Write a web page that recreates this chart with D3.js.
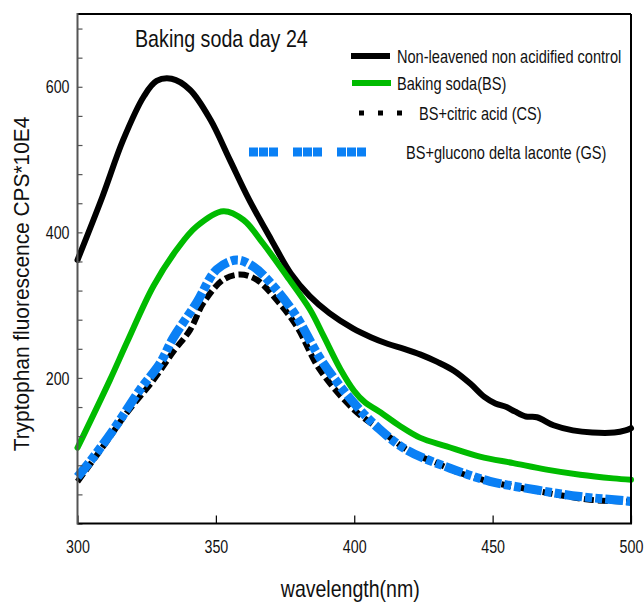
<!DOCTYPE html>
<html>
<head>
<meta charset="utf-8">
<script src="https://cdn.jsdelivr.net/npm/d3@7/dist/d3.min.js"></script>
<style>
  html, body { margin: 0; padding: 0; background: #fff; }
  svg { display: block; }
  text { font-family: "Liberation Sans", Arial, sans-serif; fill: #111; }
</style>
</head>
<body>
<svg id="chart" width="644" height="602"></svg>
<script>
// ---------------- data ----------------
const chartTitle = "Baking soda day 24";
const xAxisTitle = "wavelength(nm)";
const yAxisTitle = "Tryptophan fluorescence CPS*10E4";
const xTicks = [300, 350, 400, 450, 500];
const yTickLabels = [200, 400, 600];
const yMinorTicks = d3.range(0, 700, 40);

const seriesNames = [
  "Non-leavened non acidified control",
  "Baking soda(BS)",
  "BS+citric acid (CS)",
  "BS+glucono delta laconte (GS)"
];

const controlWl = [300, 309, 316.5, 324, 328.6, 334, 340.6, 348, 355, 362, 370, 377, 384, 391, 399.5, 406, 412, 418, 424, 430, 436, 442, 447, 451, 455, 458, 462, 466, 472, 479, 486, 494, 498, 500];
const controlVal = [362, 449, 527, 587, 608, 611, 596, 555, 500, 445, 390, 344, 312, 289, 268, 256, 247, 240, 232, 222, 210, 192, 174, 165, 160, 154, 147, 146, 135, 128, 125, 125, 128, 131];

const bsWl = [300, 311.7, 318, 327.4, 335.8, 343, 352.7, 360, 367, 375.6, 384, 389, 395, 400, 404, 409, 416.5, 423.7, 433.4, 445.4, 457.5, 469.5, 481.6, 493.6, 500];
const bsVal = [104, 197, 250, 326, 376, 408, 429, 417, 385, 340, 294, 257, 212, 182, 166, 154, 134, 118, 106, 92, 83, 74, 67, 62, 60];

const csWl = [300, 309.3, 317.8, 327.4, 334.6, 340.7, 345.5, 352.7, 358.7, 364.7, 372, 379.2, 387.6, 400, 409.3, 414, 421, 428.6, 437, 449, 461, 474, 486, 500];
const csVal = [57.5, 106, 152, 197, 236, 266, 303, 335, 342, 335, 307, 271, 211, 156, 129, 115, 96.5, 85, 71, 57.5, 48.4, 39.2, 32.3, 30];

const gsWl = [300, 304.5, 313, 322.6, 329.8, 334.6, 343, 350.3, 357.5, 363.5, 370.8, 379.2, 388, 400, 409, 419, 434.6, 449, 466, 481.6, 498.4, 500];
const gsVal = [64, 85, 129, 184, 220, 255, 303, 349, 362, 353, 326, 284, 225, 165, 130, 101, 76, 58, 46, 37, 31, 30];

// ---------------- drawing ----------------
const svg = d3.select("#chart");
const x = d3.scaleLinear().domain([300, 500]).range([77.5, 631]);
const y = d3.scaleLinear().domain([0, 700]).range([523.5, 14]);

// condense a text horizontally around its own anchor point (reference uses a narrow face)
function narrow(sel, factor) {
  sel.each(function () {
    const t = d3.select(this);
    const tx = +t.attr("x") || 0, ty = +t.attr("y") || 0;
    const prev = t.attr("transform") || "";
    t.attr("x", 0).attr("y", 0)
     .attr("transform", `${prev} translate(${tx},${ty}) scale(${factor},1)`);
  });
}

const line = d3.line()
  .x(d => x(d[0]))
  .y(d => y(d[1]))
  .curve(d3.curveCatmullRom.alpha(0.5));

const zip = (a, b) => a.map((v, i) => [v, b[i]]);

const styles = [
  { color: "#000000", width: 6, dash: null },
  { color: "#00bb00", width: 6, dash: null },
  { color: "#000000", width: 6, dash: "10,4" },
  { color: "#0a80f5", width: 9, dash: "18,3,7,3,7,3" }
];
const data = [zip(controlWl, controlVal), zip(bsWl, bsVal), zip(csWl, csVal), zip(gsWl, gsVal)];

const plot = svg.append("g");
data.forEach((d, i) => {
  plot.append("path")
    .datum(d)
    .attr("d", line)
    .attr("fill", "none")
    .attr("stroke", styles[i].color)
    .attr("stroke-width", styles[i].width)
    .attr("stroke-linejoin", "round")
    .attr("stroke-linecap", i >= 2 ? "butt" : "round")
    .attr("stroke-dasharray", styles[i].dash);
});

// axes
const xAxis = d3.axisBottom(x).tickValues(xTicks).tickSizeInner(-8).tickSizeOuter(0).tickPadding(16).tickFormat(d3.format("d"));
const gx = svg.append("g").attr("transform", `translate(0,${y(0)})`).call(xAxis);
gx.select(".domain").remove();
gx.selectAll(".tick line").attr("stroke", "#000").attr("stroke-width", 1.2);
gx.selectAll("text").attr("font-size", 19).attr("fill", "#111").call(narrow, 0.75);

const yAxis = d3.axisLeft(y).tickValues(yMinorTicks).tickSizeInner(-5).tickSizeOuter(0).tickPadding(8)
  .tickFormat(d => yTickLabels.includes(d) ? d : "");
const gy = svg.append("g").attr("transform", `translate(${x(300)},0)`).call(yAxis);
gy.select(".domain").remove();
gy.selectAll(".tick line").attr("stroke", "#555").attr("stroke-width", 1.2);
gy.selectAll("text").attr("font-size", 19).attr("fill", "#111").call(narrow, 0.75);

// frame
const x0 = x(300), x1 = x(500), y0 = y(0), y1 = y(700);
svg.append("line").attr("x1", x0).attr("x2", x1).attr("y1", y1).attr("y2", y1).attr("stroke", "#000").attr("stroke-width", 2);
svg.append("line").attr("x1", x1).attr("x2", x1).attr("y1", y1).attr("y2", y0).attr("stroke", "#000").attr("stroke-width", 2);
svg.append("line").attr("x1", x0).attr("x2", x1 + 1).attr("y1", y0).attr("y2", y0).attr("stroke", "#000").attr("stroke-width", 2);
svg.append("line").attr("x1", x0).attr("x2", x0).attr("y1", y1 - 1).attr("y2", y0 + 1).attr("stroke", "#555").attr("stroke-width", 2);

// titles
svg.append("text").attr("x", 135).attr("y", 47).attr("font-size", 24).text(chartTitle).call(narrow, 0.82);
svg.append("text").attr("x", (x0 + x1) / 2 - 4).attr("y", 597).attr("text-anchor", "middle").attr("font-size", 23).text(xAxisTitle).call(narrow, 0.85);
svg.append("text").attr("transform", "translate(29,284) rotate(-90)").attr("text-anchor", "middle").attr("font-size", 22).text(yAxisTitle).call(narrow, 0.95);

// legend
const legendRows = [
  { sx1: 351, sx2: 390, ty: 56, tx: 397 },
  { sx1: 352, sx2: 391, ty: 83, tx: 397 },
  { sx1: 359, sx2: 403, ty: 113, tx: 419 },
  { sx1: 249, sx2: 367, ty: 152, tx: 406 }
];
const legendSample = [
  { width: 6, dash: null },
  { width: 6, dash: null },
  { width: 5, dash: "5,14" },
  { width: 9, dash: "9,1,9,1,9,15" }
];
const lg = svg.append("g");
legendRows.forEach((r, i) => {
  lg.append("line")
    .attr("x1", r.sx1).attr("x2", r.sx2).attr("y1", r.ty).attr("y2", r.ty)
    .attr("stroke", styles[i].color).attr("stroke-width", legendSample[i].width)
    .attr("stroke-dasharray", legendSample[i].dash);
  lg.append("text").attr("x", r.tx).attr("y", r.ty + 6.5).attr("font-size", 18).text(seriesNames[i]).call(narrow, 0.81);
});
</script>
</body>
</html>
